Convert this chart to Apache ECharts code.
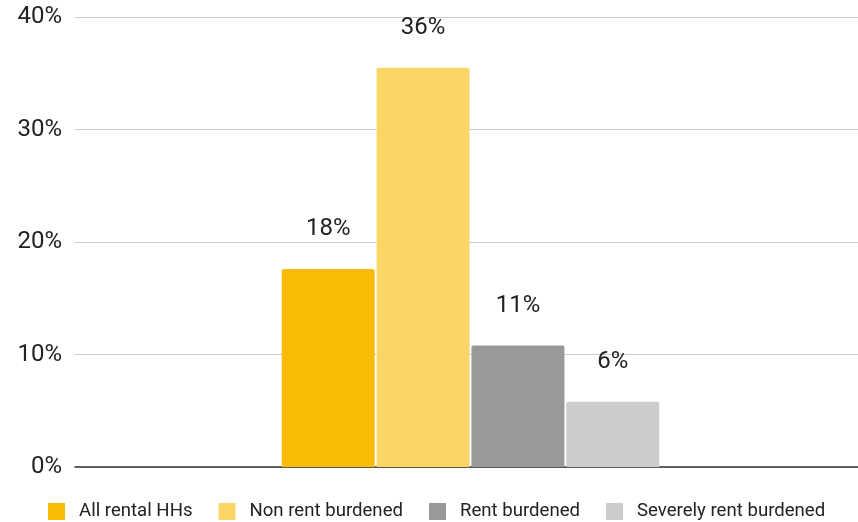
<!DOCTYPE html>
<html>
<head>
<meta charset="utf-8">
<script src="https://cdn.jsdelivr.net/npm/echarts@6/dist/echarts.min.js"></script>
<style>
  html, body { margin: 0; padding: 0; background: #fff; }
  #chart { width: 858px; height: 522px; }
</style>
</head>
<body>
<div id="chart"></div>
<script>
// Share of households, by rent-burden group
const categories = [''];
const seriesNames = ['All rental HHs', 'Non rent burdened', 'Rent burdened', 'Severely rent burdened'];
const seriesValues = [17.6, 35.5, 10.8, 5.8];
const seriesColors = ['#f9bc06', '#fbd666', '#999999', '#cccccc'];
const yTicks = [0, 10, 20, 30, 40];

const chart = echarts.init(document.getElementById('chart'));

const series = seriesNames.map((name, i) => ({
  name: name,
  type: 'bar',
  data: [seriesValues[i]],
  barWidth: 93,
  barGap: '2%',
  itemStyle: { color: seriesColors[i], borderRadius: [2, 2, 0, 0] },
  label: {
    show: true,
    position: 'top',
    distance: 28,
    formatter: p => Math.round(p.value) + '%',
    fontFamily: 'Roboto',
    fontSize: 24,
    color: '#222'
  }
}));

chart.setOption({
  animation: false,
  backgroundColor: '#fff',
  textStyle: { fontFamily: 'Roboto' },
  grid: { left: 75, width: 791, top: 17, bottom: 55, containLabel: false, outerBoundsMode: 'none' },
  legend: {
    bottom: -4,
    left: 43,
    itemWidth: 17,
    itemHeight: 17,
    itemGap: 26,
    icon: 'rect',
    textStyle: { fontFamily: 'Roboto', fontSize: 18.6, color: '#222', padding: [0, 0, 0, 9] },
    data: seriesNames
  },
  xAxis: {
    type: 'category',
    data: categories,
    axisLine: { lineStyle: { color: '#333', width: 1.5 } },
    axisTick: { show: false },
    axisLabel: { show: false }
  },
  yAxis: {
    type: 'value',
    min: yTicks[0],
    max: yTicks[yTicks.length - 1],
    interval: 10,
    axisLine: { show: false },
    axisTick: { show: false },
    splitLine: { lineStyle: { color: '#cccccc', width: 1 } },
    axisLabel: {
      formatter: v => v + '%',
      fontFamily: 'Roboto',
      fontSize: 24,
      color: '#222',
      margin: 13
    }
  },
  series: series
});
</script>
</body>
</html>
